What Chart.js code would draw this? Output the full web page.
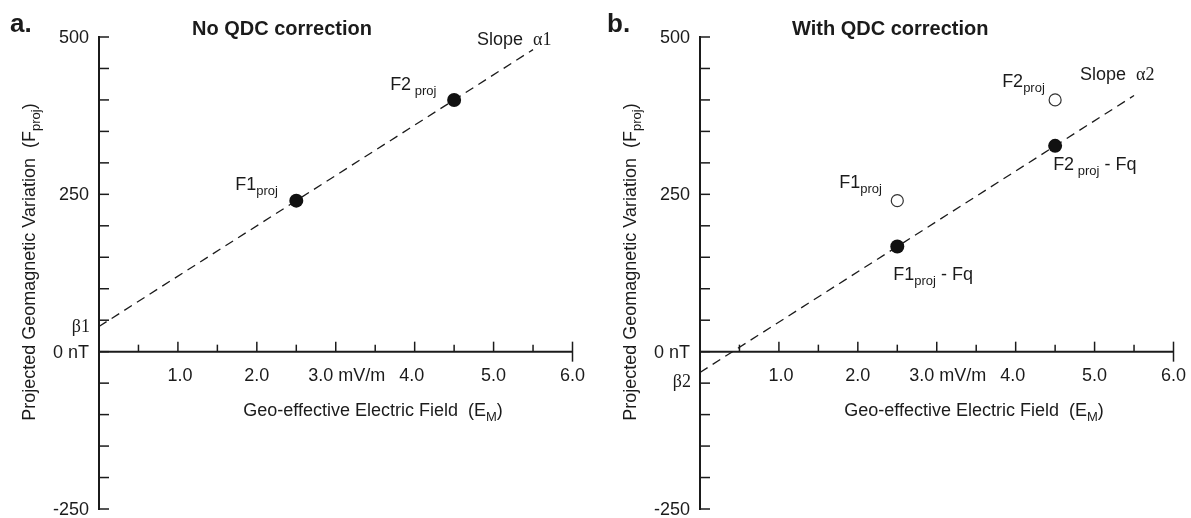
<!DOCTYPE html>
<html>
<head>
<meta charset="utf-8">
<script src="https://cdn.jsdelivr.net/npm/chart.js@4.4.1/dist/chart.umd.min.js"></script>
<style>
  html, body { margin: 0; padding: 0; background: #fff; }
  #wrap { position: relative; width: 1191px; height: 518px; overflow: hidden; }
  canvas { position: absolute; top: 0; }
  #panelA { left: 0; }
  #panelB { left: 601px; }
</style>
</head>
<body>
<div id="wrap">
  <canvas id="panelA" width="595" height="518"></canvas>
  <canvas id="panelB" width="590" height="518"></canvas>
</div>
<script>
// Panel a: projected geomagnetic variation against the geo-effective field
const fieldA = [2.5, 4.5];
const projA = [240, 400];
const fitFieldA = [0, 5.5];
const fitProjA = [40, 480];

// Panel b: raw projections and the same points after removing Fq
const fieldB = [2.5, 4.5];
const projB = [240, 400];
const correctedB = [167, 327];
const fitFieldB = [0, 5.5];
const fitProjB = [-33, 407];

// Axis ranges and tick labels
const X_MIN = 0, X_MAX = 6, X_STEP = 0.5;
const Y_MIN = -250, Y_MAX = 500, Y_STEP = 50;
const xTickValues = [1, 2, 3, 4, 5, 6];
const xTickLabels = ['1.0', '2.0', '3.0 mV/m', '4.0', '5.0', '6.0'];
const yTickValues = [500, 250, 0, -250];
const yTickLabels = ['500', '250', '0 nT', '-250'];

const INK = '#1b1b1b';
const SANS = '"Liberation Sans", Arial, Helvetica, sans-serif';
const SERIF = '"Liberation Serif", "Times New Roman", serif';
const SIZE = 18, SUB = 13;

function fontFor(p) {
  if (p.sub) return `${SUB}px ${SANS}`;
  if (p.serif) return `${SIZE}px ${SERIF}`;
  return `${SIZE}px ${SANS}`;
}

// Text made of runs: plain, subscript or serif (Greek symbols)
function drawRich(ctx, parts, x, y, align) {
  let w = 0;
  parts.forEach(p => { ctx.font = fontFor(p); w += ctx.measureText(p.t).width; });
  let cx = align === 'center' ? x - w / 2 : align === 'right' ? x - w : x;
  ctx.textAlign = 'left';
  ctx.textBaseline = 'alphabetic';
  parts.forEach(p => {
    ctx.font = fontFor(p);
    ctx.fillText(p.t, cx, y + (p.sub ? 5 : 0));
    cx += ctx.measureText(p.t).width;
  });
}

function seg(ctx, x1, y1, x2, y2) {
  ctx.beginPath(); ctx.moveTo(x1, y1); ctx.lineTo(x2, y2); ctx.stroke();
}

// Tick values generated by the scale; stepped fallback if it kept none
function tickValues(scale, min, max, step) {
  if (scale.ticks && scale.ticks.length > 2) return scale.ticks.map(t => t.value);
  const out = [];
  for (let v = min; v <= max + 1e-9; v += step) out.push(Math.round(v * 1000) / 1000);
  return out;
}

// Axes crossing at the origin, ticks pointing into the plot
const crossAxes = {
  id: 'crossAxes',
  beforeDatasetsDraw(chart) {
    const { ctx, scales: { x, y } } = chart;
    const x0 = x.getPixelForValue(X_MIN), y0 = y.getPixelForValue(0);
    const xEnd = x.getPixelForValue(X_MAX);
    const yTop = y.getPixelForValue(Y_MAX), yBot = y.getPixelForValue(Y_MIN);
    ctx.save();
    ctx.strokeStyle = INK;
    ctx.lineCap = 'butt';
    ctx.lineWidth = 2;
    seg(ctx, x0, yTop - 1, x0, yBot + 1);
    seg(ctx, x0, y0, xEnd, y0);
    ctx.lineWidth = 1.5;
    tickValues(y, Y_MIN, Y_MAX, Y_STEP).forEach(v => {
      const py = y.getPixelForValue(v);
      seg(ctx, x0, py, x0 + 10, py);
    });
    tickValues(x, X_MIN, X_MAX, X_STEP).forEach(v => {
      if (v === X_MIN) return;
      const px = x.getPixelForValue(v);
      const major = Number.isInteger(v);
      const up = major ? 10 : 7;
      const down = v === X_MAX ? 10 : 0;
      seg(ctx, px, y0 - up, px, y0 + down);
    });
    ctx.restore();
  }
};

// Panel letter, title, tick labels, axis titles and point annotations
const panelText = {
  id: 'panelText',
  afterDraw(chart, args, opts) {
    const { ctx, scales: { x, y } } = chart;
    const x0 = x.getPixelForValue(X_MIN), y0 = y.getPixelForValue(0);
    ctx.save();
    ctx.fillStyle = INK;

    ctx.font = `bold 26px ${SANS}`;
    ctx.textAlign = 'left'; ctx.textBaseline = 'alphabetic';
    ctx.fillText(opts.letter, opts.letterX, 32);
    ctx.font = `bold 20px ${SANS}`;
    ctx.fillText(opts.title, x0 + opts.titleDx, 35);

    // value labels on the vertical axis
    ctx.font = `${SIZE}px ${SANS}`;
    ctx.textAlign = 'right'; ctx.textBaseline = 'middle';
    yTickValues.forEach((v, i) => {
      ctx.fillText(yTickLabels[i], x0 - 10, y.getPixelForValue(v) + 1);
    });

    // intercept marker
    drawRich(ctx, [{ t: opts.beta, serif: true }], x0 - 9,
      y.getPixelForValue(opts.betaAt) + opts.betaDy + 6, 'right');

    // value labels along the field axis
    const shifts = [2, 0, 11, -3, 0, 0];
    ctx.font = `${SIZE}px ${SANS}`;
    ctx.textAlign = 'center'; ctx.textBaseline = 'alphabetic';
    xTickValues.forEach((v, i) => {
      ctx.fillText(xTickLabels[i], x.getPixelForValue(v) + shifts[i], y0 + 29);
    });

    // axis titles
    drawRich(ctx, [{ t: 'Geo-effective Electric Field  (E' }, { t: 'M', sub: true }, { t: ')' }],
      x0 + 274, y0 + 64, 'center');
    ctx.save();
    ctx.translate(x0 - 64, 262);
    ctx.rotate(-Math.PI / 2);
    drawRich(ctx, [{ t: 'Projected Geomagnetic Variation  (F' }, { t: 'proj', sub: true }, { t: ')' }],
      0, 0, 'center');
    ctx.restore();

    // annotations anchored to data positions
    opts.notes.forEach(n => {
      const px = x.getPixelForValue(n.at[0]), py = y.getPixelForValue(n.at[1]);
      drawRich(ctx, n.parts, px + n.dx, py + n.dy, 'left');
    });
    ctx.restore();
  }
};

function pts(xs, ys) { return xs.map((v, i) => ({ x: v, y: ys[i] })); }

function fitLine(xs, ys) {
  return {
    data: pts(xs, ys), showLine: true, borderColor: INK, borderWidth: 1.3,
    borderDash: [9, 6], pointRadius: 0, fill: false, order: 3
  };
}

function panel(canvasId, datasets, padRight, text) {
  return new Chart(document.getElementById(canvasId), {
    type: 'scatter',
    data: { datasets },
    options: {
      responsive: false,
      animation: false,
      layout: { padding: { left: 99, right: padRight, top: 37, bottom: 9 } },
      scales: {
        x: { type: 'linear', display: false, min: X_MIN, max: X_MAX, ticks: { stepSize: X_STEP } },
        y: { type: 'linear', display: false, min: Y_MIN, max: Y_MAX, ticks: { stepSize: Y_STEP } }
      },
      plugins: {
        legend: { display: false },
        tooltip: { enabled: false },
        panelText: text
      }
    },
    plugins: [crossAxes, panelText]
  });
}

panel('panelA', [
  fitLine(fitFieldA, fitProjA),
  {
    data: pts(fieldA, projA), pointRadius: 7, pointBackgroundColor: '#111',
    pointBorderColor: '#111', pointBorderWidth: 0, order: 1, clip: false
  }
], 22.5, {
  letter: 'a.', letterX: 10, title: 'No QDC correction', titleDx: 93,
  beta: 'β1', betaAt: fitProjA[0], betaDy: 0,
  notes: [
    { at: [fieldA[0], projA[0]], dx: -61, dy: -11, parts: [{ t: 'F1' }, { t: 'proj', sub: true }] },
    { at: [fieldA[1], projA[1]], dx: -64, dy: -10, parts: [{ t: 'F2' }, { t: ' proj', sub: true }] },
    { at: [fitFieldA[1], fitProjA[1]], dx: -56, dy: -5, parts: [{ t: 'Slope  ' }, { t: 'α1', serif: true }] }
  ]
});

panel('panelB', [
  fitLine(fitFieldB, fitProjB),
  {
    data: pts(fieldB, projB), pointRadius: 6, pointBackgroundColor: '#fff',
    pointBorderColor: '#333', pointBorderWidth: 1.2, order: 2, clip: false
  },
  {
    data: pts(fieldB, correctedB), pointRadius: 7, pointBackgroundColor: '#111',
    pointBorderColor: '#111', pointBorderWidth: 0, order: 1, clip: false
  }
], 17.5, {
  letter: 'b.', letterX: 6, title: 'With QDC correction', titleDx: 92,
  beta: 'β2', betaAt: fitProjB[0], betaDy: 9,
  notes: [
    { at: [fieldB[0], projB[0]], dx: -58, dy: -13, parts: [{ t: 'F1' }, { t: 'proj', sub: true }] },
    { at: [fieldB[1], projB[1]], dx: -53, dy: -13, parts: [{ t: 'F2' }, { t: 'proj', sub: true }] },
    { at: [fieldB[0], correctedB[0]], dx: -4, dy: 33, parts: [{ t: 'F1' }, { t: 'proj', sub: true }, { t: ' - Fq' }] },
    { at: [fieldB[1], correctedB[1]], dx: -2, dy: 24, parts: [{ t: 'F2' }, { t: ' proj', sub: true }, { t: ' - Fq' }] },
    { at: [fitFieldB[1], fitProjB[1]], dx: -54, dy: -16, parts: [{ t: 'Slope  ' }, { t: 'α2', serif: true }] }
  ]
});
</script>
</body>
</html>
